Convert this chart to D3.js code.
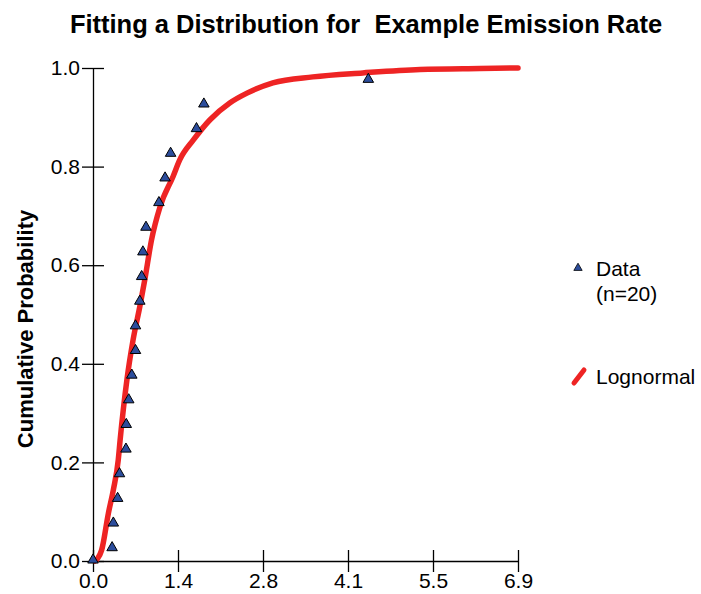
<!DOCTYPE html>
<html>
<head>
<meta charset="utf-8">
<script src="https://cdn.jsdelivr.net/npm/d3@7"></script>
<style>
  body { margin: 0; background: #fff; }
  text { font-family: "Liberation Sans", Arial, sans-serif; }
</style>
</head>
<body>
<div id="chart"></div>
<script>
const width = 701;
const height = 594;

// observed emission rates and their plotting positions
const dataX = [0.0, 0.31, 0.33, 0.40, 0.43, 0.535, 0.54, 0.58, 0.63, 0.69, 0.69,
  0.76, 0.79, 0.81, 0.86, 1.07, 1.17, 1.26, 1.68, 1.80, 4.47];
const dataP = [0.0, 0.025, 0.075, 0.125, 0.175, 0.225, 0.275, 0.325, 0.375, 0.425, 0.475,
  0.525, 0.575, 0.625, 0.675, 0.725, 0.775, 0.825, 0.875, 0.925, 0.975];

// fitted lognormal cdf
const fitX = [0.03, 0.08, 0.14, 0.25, 0.33, 0.41, 0.44, 0.55, 0.65, 0.76, 0.84, 0.95,
  1.09, 1.30, 1.41, 1.63, 1.90, 2.22, 2.50, 2.92, 3.57, 4.38, 5.31, 6.28, 6.9];
const fitP = [0.0, 0.006, 0.022, 0.097, 0.144, 0.205, 0.245, 0.367, 0.448, 0.516, 0.570, 0.651,
  0.719, 0.780, 0.814, 0.854, 0.895, 0.929, 0.949, 0.970, 0.982, 0.990, 0.997, 0.999, 1.0];

const xTicks = [0, 1.38, 2.76, 4.14, 5.52, 6.9];
const xTickLabels = ["0.0", "1.4", "2.8", "4.1", "5.5", "6.9"];
const yTicks = [0, 0.2, 0.4, 0.6, 0.8, 1.0];

const x = d3.scaleLinear().domain([0, 6.9]).range([93, 518]);
const y = d3.scaleLinear().domain([0, 1]).range([561, 68]);

const svg = d3.select("#chart").append("svg")
  .attr("width", width)
  .attr("height", height);

svg.append("text")
  .attr("x", 366)
  .attr("y", 33)
  .attr("text-anchor", "middle")
  .style("font-size", "25.5px")
  .attr("font-weight", "bold")
  .style("white-space", "pre")
  .text("Fitting a Distribution for  Example Emission Rate");

svg.append("text")
  .attr("transform", "translate(33,329) rotate(-90)")
  .attr("text-anchor", "middle")
  .style("font-size", "22px")
  .attr("font-weight", "bold")
  .text("Cumulative Probability");

// axes with ticks crossing the line
const xAxis = svg.append("g").attr("transform", `translate(0,${y(0)})`)
  .call(d3.axisBottom(x).tickValues(xTicks).tickSizeInner(11).tickSizeOuter(0)
    .tickFormat((d, i) => xTickLabels[i]));
xAxis.selectAll(".tick line").attr("y1", -11);
xAxis.selectAll(".tick text").attr("dy", "0.71em").attr("y", 12);

const yAxis = svg.append("g").attr("transform", `translate(${x(0)},0)`)
  .call(d3.axisLeft(y).tickValues(yTicks).tickSizeInner(11).tickSizeOuter(0)
    .tickFormat(d3.format(".1f")));
yAxis.selectAll(".tick line").attr("x1", 11);
yAxis.selectAll(".tick text").attr("x", -13);

svg.selectAll(".domain").attr("stroke", "#000").attr("stroke-width", 1.3);
svg.selectAll(".tick line").attr("stroke", "#000").attr("stroke-width", 1.3);
svg.selectAll(".tick text").attr("fill", "#000")
  .style("font-size", "21px")
  .style("font-family", "'Liberation Sans', Arial, sans-serif");

const fit = fitX.map((d, i) => [d, fitP[i]]);
svg.append("path")
  .datum(fit)
  .attr("fill", "none")
  .attr("stroke", "#ee2424")
  .attr("stroke-width", 5.5)
  .attr("stroke-linecap", "round")
  .attr("stroke-linejoin", "round")
  .attr("d", d3.line().x(d => x(d[0])).y(d => y(d[1])).curve(d3.curveMonotoneX));

const tri = d3.symbol().type(d3.symbolTriangle).size(48);
svg.append("g").selectAll("path")
  .data(dataX.map((d, i) => [d, dataP[i]]))
  .join("path")
  .attr("d", tri)
  .attr("transform", d => `translate(${x(d[0])},${y(d[1]) - 1})`)
  .attr("fill", "#2c4d9c")
  .attr("stroke", "#000")
  .attr("stroke-width", 1);

// legend
svg.append("path")
  .attr("d", d3.symbol().type(d3.symbolTriangle).size(30))
  .attr("transform", "translate(578,268)")
  .attr("fill", "#2c4d9c")
  .attr("stroke", "#000")
  .attr("stroke-width", 0.8);
svg.append("text").attr("x", 596).attr("y", 276).style("font-size", "21px").text("Data");
svg.append("text").attr("x", 596).attr("y", 301).style("font-size", "21px").text("(n=20)");
svg.append("line")
  .attr("x1", 574).attr("y1", 383).attr("x2", 584).attr("y2", 370)
  .attr("stroke", "#ee2424").attr("stroke-width", 5).attr("stroke-linecap", "round");
svg.append("text").attr("x", 596).attr("y", 384).style("font-size", "21px").text("Lognormal");
</script>
</body>
</html>
